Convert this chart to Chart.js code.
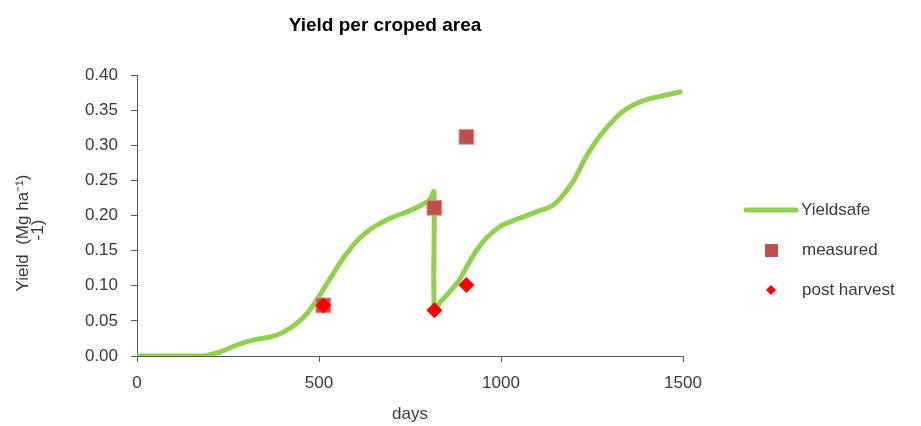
<!DOCTYPE html>
<html lang="en">
<head>
    <title>Yield per croped area</title>
    <script src="https://cdn.jsdelivr.net/npm/chart.js"></script>
    <style>
        body {
            margin: 0;
            background: #ffffff;
            font-family: 'Liberation Sans', Arial, sans-serif;
        }
        .chart-box {
            position: relative;
            width: 921px;
            height: 426px;
        }
    </style>
</head>
<body>
    <div class="chart-box">
        <canvas id="yieldChart"></canvas>
    </div>

    <script>
        // Yieldsafe simulated curve (days, Mg ha-1)
        const days = [0, 100, 180, 229, 276, 320, 366, 402, 440, 470, 500, 530, 558, 585, 610, 635, 665, 700, 750, 786, 805, 816,
                      817, 835, 860, 885, 910, 935, 960, 997, 1030, 1060, 1106, 1134, 1155, 1175, 1200, 1230, 1260, 1299,
                      1330, 1362, 1400, 1440, 1492];
        const yieldsafe = [0, 0, 0, 0.006, 0.016, 0.023, 0.027, 0.034, 0.047, 0.062, 0.085, 0.110, 0.133, 0.152, 0.167, 0.178, 0.188, 0.197, 0.207, 0.216, 0.223, 0.234,
                           0.066, 0.078, 0.092, 0.108, 0.131, 0.152, 0.168, 0.184, 0.192, 0.198, 0.207, 0.212, 0.220, 0.232, 0.250, 0.280, 0.305, 0.330,
                           0.346, 0.357, 0.365, 0.370, 0.376];

        // mediciones
        const measuredDays = [512, 817, 905];
        const measured = [0.072, 0.211, 0.312];
        const harvestDays = [512, 817, 905];
        const postHarvest = [0.072, 0.065, 0.101];

        const xTicks = [0, 500, 1000, 1500];
        const yTicks = [0, 0.05, 0.10, 0.15, 0.20, 0.25, 0.30, 0.35, 0.40];

        const FONT = "'Liberation Sans', Arial, sans-serif";
        const GREEN = '#92D050';
        const BRICK = '#C0504D';
        const RED = '#FF0000';
        const AXIS = '#595959';
        const TEXT = '#3a3a3a';

        const toPoints = (xs, ys) => xs.map((x, i) => ({ x: x, y: ys[i] }));

        // titulo, etiqueta del eje y y leyenda
        const extras = {
            id: 'extras',
            afterDraw(chart) {
                const c = chart.ctx;
                c.save();
                c.fillStyle = '#000';
                c.font = 'bold 19px ' + FONT;
                c.textAlign = 'center';
                c.textBaseline = 'middle';
                c.fillText('Yield per croped area', 385, 26);

                // y title, rotated
                c.fillStyle = TEXT;
                c.font = '17px ' + FONT;
                c.save();
                c.translate(23, 233);
                c.rotate(-Math.PI / 2);
                c.fillText('Yield  (Mg ha\u207B\u00B9)', 0, 0);
                c.restore();
                c.save();
                c.translate(38, 230);
                c.rotate(-Math.PI / 2);
                c.fillText('-1)', 0, 0);
                c.restore();

                // leyenda
                c.textAlign = 'left';
                c.strokeStyle = GREEN;
                c.lineWidth = 5;
                c.lineCap = 'round';
                c.beginPath();
                c.moveTo(746, 210);
                c.lineTo(796, 210);
                c.stroke();
                c.fillText('Yieldsafe', 801, 210);

                c.fillStyle = BRICK;
                c.fillRect(765, 244, 13, 13);
                c.fillStyle = TEXT;
                c.fillText('measured', 802, 250);

                c.fillStyle = RED;
                c.beginPath();
                c.moveTo(766, 290);
                c.lineTo(771, 285);
                c.lineTo(776, 290);
                c.lineTo(771, 295);
                c.closePath();
                c.fill();
                c.fillStyle = TEXT;
                c.fillText('post harvest', 802, 290);
                c.restore();
            }
        };

        const ctx = document.getElementById('yieldChart').getContext('2d');
        const chart = new Chart(ctx, {
            type: 'scatter',
            data: {
                datasets: [
                    {
                        label: 'post harvest',
                        data: toPoints(harvestDays, postHarvest),
                        pointStyle: 'rectRot',
                        pointRadius: 8,
                        backgroundColor: RED,
                        borderColor: RED,
                        borderWidth: 0,
                        order: 0
                    },
                    {
                        label: 'measured',
                        data: toPoints(measuredDays, measured),
                        pointStyle: 'rect',
                        pointRadius: 10.5,
                        backgroundColor: BRICK,
                        borderColor: '#d99795',
                        borderWidth: 1,
                        order: 1
                    },
                    {
                        label: 'Yieldsafe',
                        data: toPoints(days, yieldsafe),
                        showLine: true,
                        borderColor: GREEN,
                        borderWidth: 5,
                        borderCapStyle: 'round',
                        borderJoinStyle: 'round',
                        pointRadius: 0,
                        tension: 0.3,
                        fill: false,
                        order: 2
                    }
                ]
            },
            options: {
                responsive: true,
                maintainAspectRatio: false,
                animation: false,
                layout: { padding: { top: 75, right: 238, left: 0, bottom: 0 } },
                plugins: {
                    legend: { display: false },
                    title: { display: false },
                    tooltip: { enabled: false }
                },
                scales: {
                    x: {
                        type: 'linear',
                        min: 0,
                        max: 1500,
                        afterFit: (s) => { s.height = 70; },
                        afterBuildTicks: (s) => { s.ticks = xTicks.map(v => ({ value: v })); },
                        grid: { drawOnChartArea: false, drawTicks: true, tickLength: 6, color: AXIS },
                        border: { display: true, color: AXIS, width: 1 },
                        ticks: {
                            color: TEXT,
                            padding: 11,
                            maxRotation: 0,
                            autoSkip: false,
                            font: { size: 17, family: FONT },
                            callback: (v) => String(v)
                        },
                        title: {
                            display: true,
                            text: 'days',
                            color: TEXT,
                            padding: { top: 0, bottom: 1 },
                            font: { size: 17, family: FONT }
                        }
                    },
                    y: {
                        min: 0,
                        max: 0.4,
                        afterFit: (s) => { s.width = 137; },
                        afterBuildTicks: (s) => { s.ticks = yTicks.map(v => ({ value: v })); },
                        grid: { drawOnChartArea: false, drawTicks: true, tickLength: 6, color: AXIS },
                        border: { display: true, color: AXIS, width: 1 },
                        ticks: {
                            color: TEXT,
                            padding: 13,
                            font: { size: 17, family: FONT },
                            callback: (v) => Number(v).toFixed(2)
                        }
                    }
                },
                elements: {
                    line: { capBezierPoints: true }
                }
            },
            plugins: [extras]
        });
    </script>
</body>
</html>
